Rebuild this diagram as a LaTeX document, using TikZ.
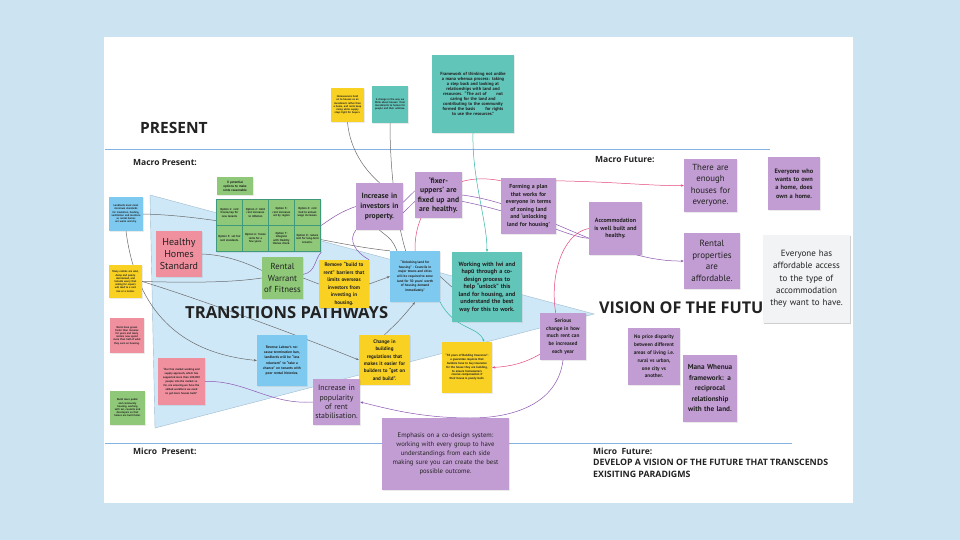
\documentclass[tikz,border=0pt]{standalone}
\usepackage{fontspec}
\setmainfont{PT Sans}
\newfontfamily\headfont{Open Sans}
\usetikzlibrary{arrows.meta,shadows}
\pgfdeclarelayer{paper}
\pgfdeclarelayer{links}
\pgfsetlayers{paper,links,main}
\hyphenpenalty=10000
\exhyphenpenalty=10000

\definecolor{sky}{HTML}{CCE4F2}
\definecolor{wedge}{HTML}{CFE8F8}
\definecolor{wedgeedge}{HTML}{9DBBD0}
\definecolor{axis}{HTML}{85B2E2}
\definecolor{stYellow}{HTML}{F8D123}
\definecolor{stTeal}{HTML}{62C5BA}
\definecolor{stBlue}{HTML}{7DC9F0}
\definecolor{stPink}{HTML}{F08F9E}
\definecolor{stGreen}{HTML}{8EC878}
\definecolor{stPurple}{HTML}{C29DD3}
\definecolor{stGrey}{HTML}{F2F3F5}
\definecolor{gridedge}{HTML}{3E9A7A}
\definecolor{lnGrey}{HTML}{6B6B6B}
\definecolor{lnPurple}{HTML}{8B55B0}
\definecolor{lnPink}{HTML}{E5467E}
\definecolor{lnTeal}{HTML}{33B5A5}
\definecolor{ink}{HTML}{222222}

\newcommand\fsz[2]{\fontsize{#1}{#2}\selectfont}

% a sticky note given by its corners: name, x1, y1, x2, y2, padding, style, text
\newcommand\postit[8]{%
  \pgfmathsetmacro\pNw{#4-#2}%
  \pgfmathsetmacro\pNh{#5-#3}%
  \pgfmathsetmacro\pNx{(#2+#4)/2}%
  \pgfmathsetmacro\pNy{(#3+#5)/2}%
  \pgfmathsetmacro\pNt{#4-#2-2*#6}%
  \node[#7, inner xsep=#6pt, minimum width=\pNw pt, minimum height=\pNh pt,
        text width=\pNt pt] (#1) at (\pNx,\pNy) {#8};}

\tikzset{
  sticky/.style={align=center, inner ysep=1pt, text=ink,
    drop shadow={opacity=0.16, shadow xshift=0.5pt, shadow yshift=-0.8pt}},
  yel/.style={sticky, fill=stYellow},
  teal/.style={sticky, fill=stTeal},
  blu/.style={sticky, fill=stBlue},
  pnk/.style={sticky, fill=stPink},
  grn/.style={sticky, fill=stGreen},
  pur/.style={sticky, fill=stPurple},
  gry/.style={sticky, fill=stGrey,
    drop shadow={opacity=0.25, shadow xshift=0.8pt, shadow yshift=-1pt}},
  micro/.style={font=\fsz{2.7}{3.2}\bfseries},
  cell/.style={fill=stGreen, align=center, inner sep=0.8pt, text=ink,
    minimum width=25pt, minimum height=25pt, text width=23pt,
    font=\fsz{2.9}{3.5}\bfseries},
  heading/.style={font=\headfont\bfseries, text=ink, inner sep=0pt, anchor=base west},
  axisline/.style={draw=axis, line width=1pt},
  link/.style={line width=0.5pt},
  gln/.style={link, draw=lnGrey},
  pln/.style={link, draw=lnPurple},
  rln/.style={link, draw=lnPink},
  tln/.style={link, draw=lnTeal},
  tip/.style={-{Stealth[length=3pt,width=2.4pt]}},
}

\begin{document}
\begin{tikzpicture}[x=1pt,y=-1pt]
\useasboundingbox (0,0) rectangle (960,540);

% ---------- board, wedge and the two time axes ----------
\begin{pgfonlayer}{paper}
  \fill[sky] (0,0) rectangle (960,540);
  \fill[white] (104,37) rectangle (853,503);
  \filldraw[fill=wedge, draw=wedgeedge, line width=0.4pt]
    (150,195) -- (594,314) -- (155,428) -- cycle;
  \coordinate (macroStart) at (105,150);
  \coordinate (macroEnd) at (770,150);
  \coordinate (microStart) at (105,443);
  \coordinate (microEnd) at (792,443);
  \draw[axisline] (macroStart) -- (macroEnd);
  \draw[axisline] (microStart) -- (microEnd);
\end{pgfonlayer}

% ---------- headings ----------
\node[heading, font=\headfont\bfseries\fsz{15.5}{18}] (present) at (140,134) {PRESENT};
\node[heading, font=\headfont\bfseries\fsz{8.5}{10}] (macroP) at (133,166) {Macro Present:};
\node[heading, font=\headfont\bfseries\fsz{8.5}{10}] (macroF) at (595,163) {Macro Future:};
\node[heading, font=\headfont\bfseries\fsz{16.6}{19}] (transit) at (185,318) {TRANSITIONS PATHWAYS};
\node[heading, font=\headfont\bfseries\fsz{16.2}{19}] (vision) at (599,313) {VISION OF THE FUTU};
\node[heading, font=\headfont\bfseries\fsz{8.5}{10}] (microP) at (133,454) {Micro\ \ Present:};
\node[heading, font=\headfont\bfseries\fsz{8.5}{10}] (microF) at (593,454) {Micro\ \ Future:};
\node[heading, font=\headfont\bfseries\fsz{8.8}{12}, align=left, anchor=north west] (develop) at (593,459)
  {DEVELOP A VISION OF THE FUTURE THAT TRANSCENDS\\EXISITING PARADIGMS};

% ---------- notes along the top ----------
\postit{smallY}{331}{88}{364}{122}{2.5}{yel,micro}
  {Homeowners hold on to houses as an investment rather than a home, and rents keep rising while supply stays tight for buyers.}
\postit{smallT}{372}{86}{408}{123}{2.5}{teal,micro}
  {A change in the way we think about houses: from investments to homes for people and their whānau.\\[5pt]}
\postit{bigT}{432}{55}{514}{133}{3}{teal,font=\fsz{4.5}{4.9}\bfseries}
  {Framework of thinking not unlike\\a mana whenua process: taking\\a step back and looking at\\relationships with land and\\resources. ``The act of \hspace{7pt} not\\caring for the land and\\contributing to the community\\formed the basis \hspace{7pt} for rights\\to use the resources.''\\[4pt]}

% ---------- present, left column ----------
\postit{lB}{109}{197}{143}{231}{2.5}{blu,micro}
  {Landlords must meet minimum standards for insulation, heating, ventilation and moisture so rental homes are warm and dry.}
\postit{lY}{109}{265}{142}{298}{2.5}{yel,micro}
  {Many rentals are cold, damp and poorly maintained, and tenants worry that asking for repairs will lead to a rent rise or a notice.}
\postit{lP}{110}{318}{144}{353}{2.5}{pnk,micro}
  {Rents have grown faster than incomes for years and many renters now spend more than half of what they earn on housing.}
\postit{lG}{110}{391}{145}{425}{2.5}{grn,micro}
  {Build more public and community housing, working with iwi, councils and developers so that homes are built faster.}

% ---------- transition pathways ----------
\postit{hhs}{156}{231}{202}{277}{1}{pnk,font=\fsz{10}{11.7}}{Healthy\\Homes\\Standard}
\postit{optlbl}{217}{177}{253}{195}{2}{grn,font=\fsz{3.3}{4}\bfseries}{8 potential\\options to make\\rents reasonable}
\node[fill=gridedge, minimum width=105pt, minimum height=53pt, inner sep=0pt,
      drop shadow={opacity=0.16, shadow xshift=0.5pt, shadow yshift=-0.8pt}] (grid) at (268.5,225.5) {};
\node[cell] (c1) at (229.5,212.5) {Option 1: rent freeze/cap for new tenants\\[3pt]};
\node[cell] (c2) at (255.5,212.5) {Option 2: limit rent increases to inflation\\[3pt]};
\node[cell] (c3) at (281.5,212.5) {Option 3: rent increases set by region\\[3pt]};
\node[cell] (c4) at (307.5,212.5) {Option 4: rent tied to annual wage increases.\\[3pt]};
\node[cell] (c5) at (229.5,238.5) {Option 5: set fair rent standards.\\[3pt]};
\node[cell] (c6) at (255.5,238.5) {Option 6: freeze rents for a few years.\\[3pt]};
\node[cell] (c7) at (281.5,238.5) {Option 7: integrate with Healthy Homes check.\\[3pt]};
\node[cell] (c8) at (307.5,238.5) {Option 8: reduce rent for long-term tenants.\\[3pt]};

\postit{rwof}{262}{257}{303}{299}{0.5}{grn,font=\fsz{8.7}{11.3}}{Rental\\Warrant\\of~Fitness}
\postit{remove}{319}{260}{369}{308}{2}{yel,font=\fsz{5.2}{7.6}\bfseries}
  {Remove ``build to\\rent'' barriers that\\limits overseas\\investors from\\investing in\\housing.}
\postit{invest}{356}{183}{403}{230}{1}{pur,font=\fsz{7.6}{10}\bfseries}{Increase in\\investors in\\property.}
\postit{fixer}{415}{172}{462}{218}{1}{pur,font=\fsz{7.6}{9.5}\bfseries}{`fixer-\\uppers' are\\fixed up and\\are healthy.}
\postit{forming}{501}{178}{556}{234}{1}{pur,font=\fsz{5.8}{7.5}\bfseries}
  {Forming a plan\\that works for\\everyone in terms\\of zoning land\\and `unlocking\\land for housing'}
\postit{unlock}{390}{251}{440}{302}{2}{blu,font=\fsz{3.4}{4.7}\bfseries}
  {``Unlocking land for\\housing'' - Councils in\\major towns and cities\\will be required to zone\\land for 30 years' worth\\of housing demand\\immediately.''}
\postit{working}{452}{252}{522}{322}{2}{teal,font=\fsz{6.1}{7.5}\bfseries}
  {Working with Iwi and\\hapū through a co-\\design process to\\help ``unlock'' this\\land for housing, and\\understand the best\\way for this to work.}
\postit{ourfree}{158}{358}{205}{405}{3}{pnk,font=\fsz{2.8}{3.9}\bfseries}
  {``Our free market working and supply approach, which has supported more than 100,000 people into the market so far, are ensuring we have the skilled workforce we need to get more houses built.''}
\postit{reverse}{257}{335}{307}{386}{1.5}{blu,font=\fsz{3.6}{5.2}\bfseries}
  {Reverse Labour's no-\\cause termination ban,\\landlords will be ``less\\reluctant'' to ``take a\\chance'' on tenants with\\poor rental histories.}
\postit{changebld}{359}{335}{410}{385}{1}{yel,font=\fsz{5.1}{7.3}\bfseries}
  {Change in\\building\\regulations that\\makes it easier for\\builders to ``get on\\and build''.}
\postit{popular}{313}{379}{360}{425}{1}{pur,font=\fsz{7.8}{9.4}}{Increase in\\popularity\\of rent\\stabilisation.}
\postit{buildins}{442}{342}{492}{393}{3}{yel,font=\fsz{3}{3.8}\bfseries}
  {``50 years of Building Insurance'': a guarantee requires that builders have to buy insurance for the house they are building, to ensure homeowners receive compensation if their house is poorly built.}
\postit{serious}{540}{313}{586}{360}{1}{pur,font=\fsz{5.3}{7.6}\bfseries}
  {Serious\\change in how\\much rent can\\be increased\\each year}
\postit{emph}{382}{418}{509}{490}{3}{pur,font=\fsz{6.7}{9}}
  {Emphasis on a co-design system:\\working with every group to have\\understandings from each side\\making sure you can create the best\\possible outcome.}

% ---------- future ----------
\postit{accom}{589}{202}{642}{255}{1}{pur,font=\fsz{6}{7.7}\bfseries}{Accommodation\\is well built and\\healthy.\\[14pt]}
\postit{enough}{684}{159}{737}{212}{1}{pur,font=\fsz{8.8}{11.5}}{There are\\enough\\houses for\\everyone.}
\postit{ownhome}{768}{157}{820}{210}{1}{pur,font=\fsz{6.4}{8.3}\bfseries}{Everyone who\\wants to own\\a home, does\\own a home.\\[8pt]}
\postit{rentprop}{684}{233}{740}{289}{1}{pur,font=\fsz{9}{11.5}}{Rental\\properties\\are\\affordable.}
\postit{access}{763}{235}{850}{323}{2}{gry,font=\fsz{9}{12.3}}
  {Everyone has\\affordable access\\to the type of\\accommodation\\they want to have.}
\postit{noprice}{628}{328}{680}{385}{1}{pur,font=\fsz{5.2}{7.8}\bfseries}
  {No price disparity\\between different\\areas of living i.e.\\rural vs urban,\\one city vs\\another.}
\postit{mana}{683}{355}{737}{422}{1}{pur,font=\fsz{7.2}{10.5}\bfseries}
  {Mana Whenua\\framework: a\\reciprocal\\relationship\\with the land.}

% ---------- connectors ----------
\begin{pgfonlayer}{links}
  \draw[gln] (lB.east) .. controls (230,216) and (330,245) .. (unlock.north west);
  \draw[gln,tip] (lB.south) .. controls (135,300) and (170,352) .. (reverse.west);
  \draw[gln] (lY.east) .. controls (200,283) and (235,282) .. (rwof.west);
  \draw[gln,tip] (lY.east) .. controls (190,296) and (290,332) .. (changebld.west);
  \draw[gln] (hhs.east) .. controls (225,255) and (245,262) .. (rwof.160);
  \draw[gln] (rwof.east) -- (remove.west);
  \draw[gln,tip] (remove.east) -- (unlock.west);
  \draw[pln] (rwof.10) .. controls (316,272) and (314,260) .. (grid.south east);
  \draw[pln] (invest.west) .. controls (340,212) and (332,218) .. (grid.east);
  \draw[pln] (invest.south west) .. controls (348,240) and (355,252) .. (remove.north east);
  \draw[pln] (fixer.170) -- (invest.10);
  \draw[pln] (fixer.195) -- (invest.-15);
  \draw[pln,tip] (fixer.east) .. controls (540,205) and (610,262) .. (rentprop.west);
  \draw[pln] (fixer.-15) .. controls (530,215) and (570,238) .. (accom.-160);
  \draw[rln,tip] (unlock.north) .. controls (414,205) and (448,170) .. ([yshift=-3pt]forming.north west)
    -- ([yshift=-3pt]forming.north east) .. controls (620,182) and (650,186) .. (enough.west);
  \draw[rln,tip] (accom.west) .. controls (555,235) and (545,300) .. (serious.center)
    .. controls (540,358) and (520,366) .. (buildins.east);
  \draw[tln,tip] (bigT.south) .. controls (472,180) and (487,220) .. (working.north);
  \draw[gln] (smallT.south) .. controls (390,180) and (398,225) .. (unlock.110);
  \draw[gln] (smallY.south) .. controls (350,150) and (365,170) .. (invest.north);
  \draw[gln] (invest.south) .. controls (392,240) .. (unlock.125);
  \draw[gln] (unlock.east) -- (working.west);
  \draw[gln,tip] (changebld.north) .. controls (400,320) .. (unlock.south);
  \draw[tln,tip] (unlock.south east) .. controls (455,330) and (478,326) .. ([xshift=-8pt]buildins.north east);
  \draw[pln,tip] (serious.south) .. controls (558,400) and (520,418) .. (470,418)
    .. controls (420,418) and (385,408) .. (popular.east);
  \draw[pln] (ourfree.east) .. controls (245,380) and (270,405) .. (popular.west);
\end{pgfonlayer}
\end{tikzpicture}
\end{document}
